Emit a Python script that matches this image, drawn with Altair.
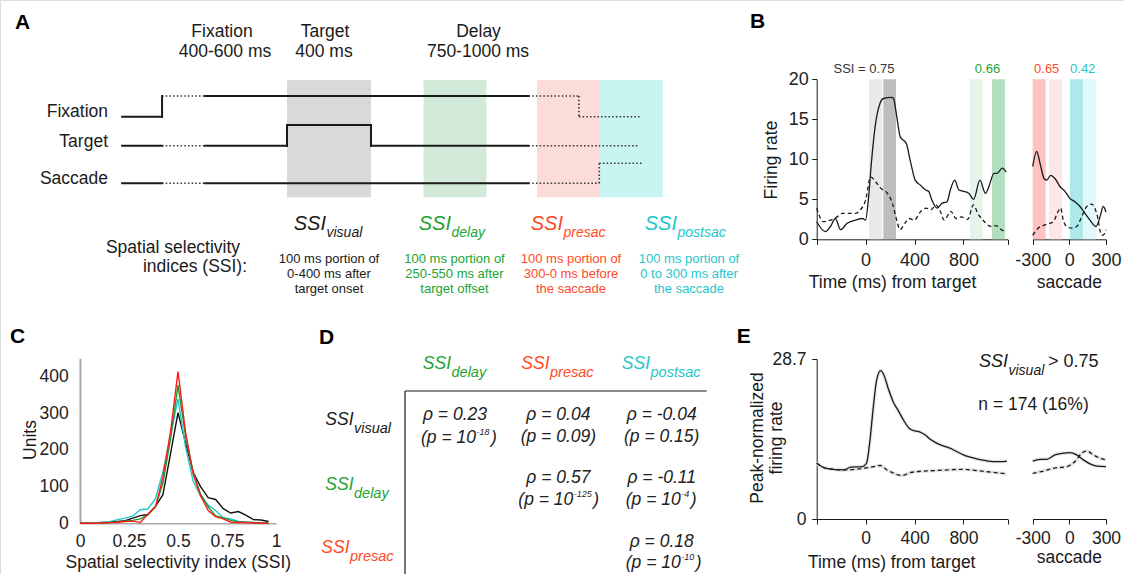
import altair as alt
import pandas as pd

W, H = 1124, 574
FONT = "Liberation Sans"
INK = "#1a1a1a"
GREEN = "#22a334"
RED = "#ff4a1f"
CYAN = "#1fc6c9"

# ---------------- Panel A: task schematic (ms relative to target onset)
fix_t = [-785, -595, -595, -390, 1150, 1390, 1390, 1690]
fix_s = [0, 0, 1, 1, 1, 1, 0, 0]
fix_style = ["solid", "solid", "dotted", "solid", "dotted", "dotted", "dotted"]
tgt_t = [-785, -595, -390, 0, 0, 400, 400, 1150, 1676]
tgt_s = [0, 0, 0, 0, 1, 1, 0, 0, 0]
tgt_style = ["solid", "dotted", "solid", "solid", "solid", "solid", "solid", "dotted"]
sac_t = [-785, -595, -390, 1150, 1487, 1487, 1690]
sac_s = [0, 0, 0, 0, 0, 1, 1]
sac_style = ["solid", "dotted", "solid", "dotted", "dotted", "dotted"]
epoch_names = ["visual", "delay", "presac", "postsac"]
epoch_start = [0, 650, 1190, 1490]
epoch_end = [400, 950, 1490, 1790]

# ---------------- Panel B: example neuron firing rate
b_t = [-400, -329, -288, -247, -205, -151, -82, -27, 0, 22, 49, 77, 118, 145, 214, 228, 255, 283, 332,
       364, 405, 446, 488, 515, 542, 584, 625, 666, 693, 729, 761, 802, 843, 884, 934, 980, 1008, 1049,
       1076, 1117, 1150]
b_in = [2.2, 0.96, 1.6, 2.6, 1.2, 2.0, 2.4, 2.6, 2.4, 4.9, 9.9, 14, 17, 17.6, 17.75, 17.6, 15.3, 12.8, 12,
        9.9, 7.4, 6.8, 6.2, 6.0, 4.9, 3.9, 4.5, 4.7, 6.2, 7.4, 6.2, 6.0, 5.75, 5.0, 7.4, 5.75, 6.6, 8.25,
        8.25, 8.9, 8.4]
b_t2 = [-400, -346, -288, -233, -192, -124, -82, -41, 0, 41, 82, 123, 178, 219, 247, 282, 320, 356, 397,
        452, 493, 534, 575, 610, 643, 697, 739, 780, 835, 881, 917, 971, 1026, 1067, 1109, 1150]
b_out = [3.9, 2.2, 2.4, 2.8, 3.25, 3.25, 3.25, 3.7, 4.9, 7.8, 7.2, 6.4, 5.75, 4.5, 2.8, 1.2, 2.0, 2.6, 2.4,
         3.5, 3.9, 3.7, 4.3, 3.5, 2.4, 3.5, 2.6, 2.8, 2.5, 4.3, 3.25, 2.2, 1.6, 1.7, 1.2, 0.9]
bs_t = [-300, -267, -240, -207, -186, -153, -118, -77, -36, 5, 46, 87, 128, 169, 218, 251, 278, 300]
bs_in = [9.1, 11, 9.5, 7.6, 7.4, 8.0, 7.6, 6.6, 6.0, 5.1, 4.7, 4.1, 3.25, 2.4, 1.6, 2.8, 4.1, 3.4]
bs_t2 = [-300, -254, -199, -131, -99, -71, -50, -22, 19, 60, 101, 142, 183, 224, 265, 292, 300]
bs_out = [0.5, 1.4, 1.8, 2.2, 3.25, 3.9, 2.4, 1.6, 1.4, 1.6, 2.8, 4.1, 4.4, 3.25, 0.5, 0.75, 1.2]
b_win = ["vis_a", "vis_b", "del_a", "del_b"]
b_win_start = [28, 145, 853, 1033]
b_win_end = [136, 248, 957, 1140]
bs_win = ["pre_a", "pre_b", "post_a", "post_b"]
bs_win_start = [-300, -167, 5, 115]
bs_win_end = [-194, -60, 112, 219]

# ---------------- Panel C: SSI distributions
c_x = [0.0, 0.038, 0.077, 0.115, 0.154, 0.192, 0.231, 0.269, 0.308, 0.346, 0.385, 0.423, 0.462, 0.5,
       0.538, 0.577, 0.615, 0.654, 0.692, 0.731, 0.769, 0.808, 0.846, 0.885, 0.923, 0.962]
c_visual = [0, 0, 1, 2, 3, 5, 7, 14, 21, 24, 46, 78, 190, 302, 220, 140, 100, 70, 65, 40, 28, 32, 22, 10, 9, 5]
c_delay = [0, 0, 0, 1, 2, 4, 6, 8, 12, 22, 45, 110, 230, 377, 240, 140, 80, 45, 20, 15, 8, 4, 3, 2, 1, 0]
c_presac = [0, 0, 0, 1, 2, 3, 5, 6, 2, 25, 45, 125, 250, 414, 250, 135, 75, 35, 18, 12, 3, 2, 2, 1, 0, 0]
c_postsac = [0, 1, 1, 3, 5, 10, 14, 20, 37, 39, 67, 140, 240, 339, 210, 115, 75, 50, 35, 15, 12, 5, 3, 2, 1, 0]

# ---------------- Panel D: correlations (rho and p; p_exp is the power of ten when p is tiny)
d_row = ["visual", "visual", "visual", "delay", "delay", "presac"]
d_col = ["delay", "presac", "postsac", "presac", "postsac", "postsac"]
d_rho = ["0.23", "0.04", "-0.04", "0.57", "-0.11", "0.18"]
d_p = ["", "0.09", "0.15", "", "", ""]
d_p_exp = ["-18", "", "", "-125", "-4", "-10"]

# ---------------- Panel E: population average
e_t = [-400, -324, -176, -122, -27, 0, 10, 35, 63, 90, 123, 150, 185, 226, 268, 308, 360, 404, 445, 486,
       535, 581, 635, 690, 745, 799, 855, 908, 975, 1044, 1100, 1155]
e_in = [10.0, 9.1, 8.8, 9.3, 9.4, 9.8, 10.2, 14.0, 20.1, 24.9, 26.6, 25.8, 23.4, 21.0, 19.4, 17.8, 16.2,
        15.8, 15.6, 15.1, 14.2, 13.6, 13.1, 12.7, 12.1, 11.5, 11.1, 10.8, 10.5, 10.3, 10.3, 10.4]
e_t2 = [-400, -324, -176, -13, 67, 121, 175, 243, 297, 364, 418, 580, 796, 904, 1066, 1155]
e_out = [10.0, 9.1, 8.8, 9.1, 9.4, 9.6, 8.8, 8.1, 7.8, 8.3, 8.5, 8.7, 8.9, 8.7, 8.3, 8.1]
es_t = [-300, -240, -186, -118, -50, 5, 60, 115, 169, 224, 300]
es_in = [10.4, 10.7, 10.7, 11.5, 11.8, 11.9, 11.5, 10.6, 9.9, 9.5, 9.4]
es_t2 = [-300, -213, -131, -22, 46, 101, 142, 196, 251, 300]
es_out = [8.2, 8.6, 9.1, 9.4, 10.3, 11.8, 12.2, 11.5, 10.9, 10.6]

ONE = pd.DataFrame({"k": [0]})
layers = []


def add(c):
    layers.append(c)


def lin(domain, rng):
    return alt.Scale(domain=domain, range=rng, nice=False, zero=False)


def txt(s, x, y, size=17.5, color=INK, align="center", baseline="alphabetic",
        italic=False, bold=False, angle=0):
    kw = dict(text=s, fontSize=size, color=color, align=align, baseline=baseline, font=FONT)
    if italic:
        kw["fontStyle"] = "italic"
    if bold:
        kw["fontWeight"] = "bold"
    if angle:
        kw["angle"] = angle
    add(alt.Chart(ONE).mark_text(**kw).encode(x=alt.value(x), y=alt.value(y)))


def ssi(sub, xr, yb, color, s1, s2, dsub):
    txt("SSI", xr, yb, size=s1, color=color, align="right", italic=True)
    txt(sub, xr + 0.5, yb + dsub, size=s2, color=color, align="left", italic=True)


def hrule(x1, x2, y, w=1.2):
    add(alt.Chart(ONE).mark_rule(color=INK, strokeWidth=w).encode(
        x=alt.value(x1), x2=alt.value(x2), y=alt.value(y)))


def vrule(x, y1, y2, w=1.2):
    add(alt.Chart(ONE).mark_rule(color=INK, strokeWidth=w).encode(
        x=alt.value(x), y=alt.value(y1), y2=alt.value(y2)))


def bottom_axis(y_px, values, expr="toString(datum.value)", lsize=18, pad=20, tick=5,
                dcolor=INK, ticks=True, dwidth=1):
    return alt.Axis(orient="bottom", offset=y_px - H, values=values, title=None, grid=False,
                    domainColor=dcolor, domainWidth=dwidth, tickColor=INK, tickSize=tick,
                    tickWidth=1, ticks=ticks, labelFont=FONT, labelFontSize=lsize,
                    labelColor="#222", labelBaseline="alphabetic", labelPadding=pad,
                    labelFlush=False, labelOverlap=False, labelBound=False, labelExpr=expr)


def left_axis(x_px, values, lsize=18, pad=3, tick=5, dcolor=INK, ticks=True, dwidth=1):
    return alt.Axis(orient="left", offset=-x_px, values=values, title=None, grid=False,
                    domainColor=dcolor, domainWidth=dwidth, tickColor=INK, tickSize=tick,
                    tickWidth=1, ticks=ticks, labelFont=FONT, labelFontSize=lsize,
                    labelColor="#222", labelPadding=pad, labelFlush=False,
                    labelOverlap=False, labelBound=False, labelExpr="toString(datum.value)")


def line(xs, ys, xscale, yscale, xaxis=None, yaxis=None, color=INK, width=1.3, dash=None, interp="monotone"):
    df = pd.DataFrame({"t": xs, "v": ys})
    kw = dict(color=color, strokeWidth=width, interpolate=interp)
    if dash:
        kw["strokeDash"] = dash
    add(alt.Chart(df).mark_line(**kw).encode(
        x=alt.X("t:Q", scale=xscale, axis=xaxis),
        y=alt.Y("v:Q", scale=yscale, axis=yaxis)))


def bands(names, t0, t1, colors, xscale, ytop, ybot):
    df = pd.DataFrame({"name": names, "t0": t0, "t1": t1})
    add(alt.Chart(df).mark_rect().encode(
        x=alt.X("t0:Q", scale=xscale, axis=None), x2="t1:Q",
        y=alt.value(ytop), y2=alt.value(ybot),
        color=alt.Color("name:N", scale=alt.Scale(domain=names, range=colors), legend=None)))


# ======================= Panel A
AX = lin([-800, 1800], [119, 665])
bands(epoch_names, epoch_start, epoch_end, ["#d9d9d9", "#d3eadb", "#fcdcd6", "#c8f4f2"], AX, 80, 197.3)
for ts, ss, st, ylo, yhi in [(fix_t, fix_s, fix_style, 116.7, 96.0),
                             (tgt_t, tgt_s, tgt_style, 145.7, 125.0),
                             (sac_t, sac_s, sac_style, 183.3, 163.3)]:
    df = pd.DataFrame({"t0": ts[:-1], "t1": ts[1:], "s0": ss[:-1], "s1": ss[1:], "style": st})
    ys = lin([0, 1], [ylo, yhi])
    for style in ["solid", "dotted"]:
        sub = df[df["style"] == style].reset_index(drop=True)
        if style == "solid":
            mk = alt.Chart(sub).mark_rule(color=INK, strokeWidth=2, strokeCap="square")
        else:
            mk = alt.Chart(sub).mark_rule(color="#333", strokeWidth=1.6, strokeDash=[1.5, 2.2])
        add(mk.encode(x=alt.X("t0:Q", scale=AX, axis=None), x2="t1:Q",
                      y=alt.Y("s0:Q", scale=ys, axis=None), y2="s1:Q"))

txt("A", 15, 28.5, size=21, bold=True, align="left", color="black")
txt("Fixation", 222, 36.7)
txt("400-600 ms", 225, 57)
txt("Target", 325, 36.7)
txt("400 ms", 324, 57)
txt("Delay", 478.5, 36.7)
txt("750-1000 ms", 478, 57)
txt("Fixation", 108, 117.3, align="right")
txt("Target", 108, 146.7, align="right")
txt("Saccade", 108, 184.3, align="right")
txt("Spatial selectivity", 173, 253.3)
txt("indices (SSI):", 195, 271.7)
ssi("visual", 326, 230, INK, 20, 14, 7)
ssi("delay", 451, 230, GREEN, 20, 14, 7)
ssi("presac", 563, 230, RED, 20, 14, 7)
ssi("postsac", 677, 230, CYAN, 20, 14, 7)
desc = [(329, INK, ["100 ms portion of", "0-400 ms after", "target onset"]),
        (454.5, GREEN, ["100 ms portion of", "250-550 ms after", "target offset"]),
        (571, RED, ["100 ms portion of", "300-0 ms before", "the saccade"]),
        (689, CYAN, ["100 ms portion of", "0 to 300 ms after", "the saccade"])]
for cx, col, lines_ in desc:
    for i, s in enumerate(lines_):
        txt(s, cx, 262.5 + 15.3 * i, size=13, color=col)

# ======================= Panel B
BX = lin([-400, 1160], [816.7, 1007.5])
BY = lin([0, 20], [239.3, 79.3])
BSX = lin([-300, 300], [1032.7, 1106.0])
bands(b_win, b_win_start, b_win_end, ["#e9e9e9", "#bdbdbd", "#e5f4e8", "#b3dfc1"], BX, 79.3, 239.3)
bands(bs_win, bs_win_start, bs_win_end, ["#ffc1c1", "#ffe7e7", "#ade9ea", "#e1f8f8"], BSX, 79.3, 239.3)
b_expr = "(datum.value == 0 || datum.value == 400 || datum.value == 800) ? toString(datum.value) : ''"
line(b_t, b_in, BX, BY,
     xaxis=bottom_axis(239.3, [-400, 0, 400, 800, 1160], expr=b_expr, pad=20.7),
     yaxis=left_axis(816.7, [0, 5, 10, 15, 20], pad=3.5))
line(b_t2, b_out, BX, BY, dash=[4, 3])
line(bs_t, bs_in, BSX, BY, xaxis=bottom_axis(239.3, [-300, 0, 300], pad=20.7))
line(bs_t2, bs_out, BSX, BY, dash=[4, 3])
txt("B", 750, 28, size=21, bold=True, align="left", color="black")
txt("SSI = 0.75", 864, 73.3, size=13, color="#333")
txt("0.66", 987.5, 73.3, size=13, color=GREEN)
txt("0.65", 1046.7, 73.3, size=13, color=RED)
txt("0.42", 1082.7, 73.3, size=13, color=CYAN)
txt("Firing rate", 771.7, 160, baseline="middle", angle=270)
txt("Time (ms) from target", 892.5, 288)
txt("saccade", 1069.3, 288.3)

# ======================= Panel C
CX = lin([0, 1], [80, 276])
CY = lin([0, 450], [523.3, 358.3])
cdf = {"visual": c_visual, "postsac": c_postsac, "delay": c_delay, "presac": c_presac}
ccol = {"visual": "#111111", "postsac": "#22c7cb", "delay": "#1e9a2a", "presac": "#ff1a1a"}
first = True
for k in ["visual", "postsac", "delay", "presac"]:
    if first:
        line(c_x, cdf[k], CX, CY, color=ccol[k], width=1.4, interp="linear",
             xaxis=bottom_axis(523.3, [0, 0.25, 0.5, 0.75, 1], lsize=17.5, pad=23.4,
                               ticks=False, dcolor="#a8a8a8", dwidth=1.5),
             yaxis=left_axis(80, [0, 100, 200, 300, 400], lsize=17.5, pad=11.7,
                             ticks=False, dcolor="#a8a8a8", dwidth=2))
        first = False
    else:
        line(c_x, cdf[k], CX, CY, color=ccol[k], width=1.4, interp="linear")
txt("C", 10, 343.3, size=21, bold=True, align="left", color="black")
txt("Units", 31, 440, baseline="middle", angle=270)
txt("Spatial selectivity index (SSI)", 178.3, 568.3)

# ======================= Panel D
DX = alt.Scale(type="point", domain=["delay", "presac", "postsac"], range=[455, 661.7], padding=0)
DY = alt.Scale(type="point", domain=["visual", "delay", "presac"], range=[415, 541.7], padding=0)
ddf = pd.DataFrame({"row": d_row, "col": d_col, "rho": d_rho, "p": d_p, "pexp": d_p_exp})
ddf["rho_s"] = "\u03c1 = " + ddf["rho"]
ddf["p_s"] = "(p = " + ddf["p"] + ")"
add(alt.Chart(ddf).mark_text(font=FONT, fontSize=17.5, fontStyle="italic", color="#222",
                             baseline="middle").encode(
    x=alt.X("col:N", scale=DX, axis=None),
    y=alt.Y("row:N", scale=DY, axis=None),
    text=alt.Text("rho_s:N")))
add(alt.Chart(ddf[ddf["p"] != ""]).mark_text(font=FONT, fontSize=17.5, fontStyle="italic",
                                              color="#222", baseline="middle", dy=22).encode(
    x=alt.X("col:N", scale=DX, axis=None),
    y=alt.Y("row:N", scale=DY, axis=None),
    text=alt.Text("p_s:N")))
# cells whose p value is a power of ten: "(p = 10" + raised exponent + ")"
EXP_SIZE = 9
exp_layout = {("visual", "delay"): (476, 438.3),
              ("delay", "presac"): (573.3, 500),
              ("delay", "postsac"): (680.7, 500),
              ("presac", "postsac"): (680.7, 563.3)}
for r, c, e in zip(d_row, d_col, d_p_exp):
    if e:
        xe, yy = exp_layout[(r, c)]
        ew = EXP_SIZE * (0.333 + 0.556 * (len(e) - 1))
        txt("(p = 10", xe, yy, size=17.5, color="#222", align="right", baseline="middle", italic=True)
        txt(e, xe + 0.5, yy - 6.5, size=EXP_SIZE, color="#222", align="left", baseline="middle", italic=True)
        txt(")", xe + ew + 2, yy, size=17.5, color="#222", align="left", baseline="middle", italic=True)
hrule(405, 706.7, 391)
vrule(405, 391, 574)
txt("D", 319, 344, size=21, bold=True, align="left", color="black")
ssi("delay", 451, 369.3, GREEN, 17.5, 14.5, 7.5)
ssi("presac", 549.5, 369.3, RED, 17.5, 14.5, 7.5)
ssi("postsac", 650, 369.3, CYAN, 17.5, 14.5, 7.5)
ssi("visual", 353.5, 425, INK, 17.5, 14.5, 7.5)
ssi("delay", 353.5, 490, GREEN, 17.5, 14.5, 7.5)
ssi("presac", 349.5, 553.3, RED, 17.5, 14.5, 7.5)

# ======================= Panel E
EX = lin([-400, 1160], [816.7, 1007.5])
EY = lin([0, 28.7], [519, 359])
ESX = lin([-300, 300], [1032.7, 1106.0])
for xs, ys, sx in [(e_t, e_in, EX), (e_t2, e_out, EX), (es_t, es_in, ESX), (es_t2, es_out, ESX)]:
    line(xs, ys, sx, EY, color="#e6e6e6", width=3.5)
line(e_t, e_in, EX, EY,
     xaxis=bottom_axis(519, [-400, 0, 400, 800, 1160], expr=b_expr, lsize=17.5, pad=19.3),
     yaxis=left_axis(816.7, [0, 28.7], lsize=17.5, pad=5.7))
line(e_t2, e_out, EX, EY, dash=[4, 3])
line(es_t, es_in, ESX, EY, xaxis=bottom_axis(519, [-300, 0, 300], lsize=17.5, pad=19.3))
line(es_t2, es_out, ESX, EY, dash=[4, 3])
txt("E", 736.7, 343.3, size=21, bold=True, align="left", color="black")
txt("Peak-normalized", 758, 438, baseline="middle", angle=270)
txt("firing rate", 776.7, 438, baseline="middle", angle=270)
txt("Time (ms) from target", 891.7, 568)
txt("saccade", 1069.3, 563)
txt("SSI", 1008, 366.7, size=18, italic=True, align="right")
txt("visual", 1008.5, 375, size=14, italic=True, align="left")
txt("> 0.75", 1048, 366.7, size=18, align="left")
txt("n = 174 (16%)", 978.3, 410, size=17.5, align="left")

chart = alt.layer(*layers).resolve_scale(
    x="independent", y="independent", color="independent"
).properties(
    width=W, height=H, padding=0, autosize=alt.AutoSizeParams(type="none")
).configure_view(stroke=None).configure(background="white")

chart.save("out.html", embed_options={"renderer": "svg", "actions": False})
